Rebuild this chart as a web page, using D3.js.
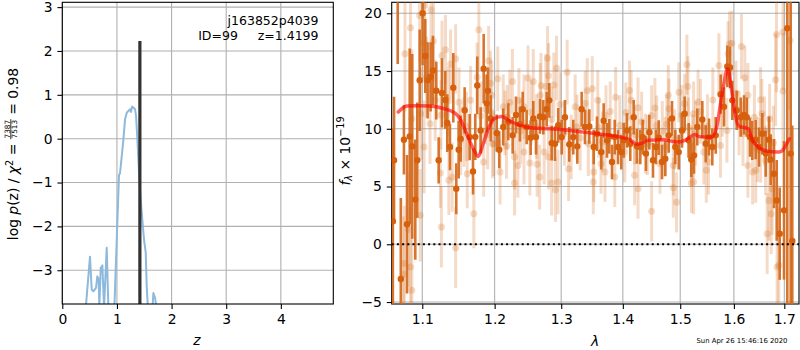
<!DOCTYPE html>
<html><head><meta charset="utf-8">
<script src="https://cdn.jsdelivr.net/npm/d3@7"></script>
<style>body{margin:0;background:#fff} svg{display:block} text{font-family:"DejaVu Sans",sans-serif}</style>
</head><body>
<svg id="c" width="800" height="350"></svg>
<script>
// ---------- left panel: log p(z) ----------
const pzZ =    [0.43, 0.507, 0.538, 0.568, 0.617, 0.641, 0.666, 0.678, 0.703, 0.733, 0.764, 0.813, 0.843, 0.90, 0.953, 1.038, 1.055, 1.088, 1.118, 1.148, 1.179, 1.209, 1.240, 1.258, 1.277, 1.300, 1.332, 1.350, 1.374, 1.410, 1.454, 1.496, 1.527, 1.545, 1.57, 1.62, 1.667, 1.70, 1.73];
const pzLogp = [-3.85, -2.69, -3.44, -3.48, -3.40, -3.14, -3.21, -3.85, -2.95, -2.89, -3.85, -2.49, -3.85, -4.5, -3.85, -0.82, -0.80, -0.40, -0.02, 0.44, 0.59, 0.63, 0.67, 0.61, 0.73, 0.71, 0.67, 0.52, -0.02, -0.93, -1.69, -2.30, -2.60, -3.36, -3.95, -4.5, -3.52, -3.64, -3.95];
const zBest = 1.4199, zBestTop = 2.23;
const zTicks = [0, 1, 2, 3, 4];
const logpTicks = [-3, -2, -1, 0, 1, 2, 3];
const objName = "j163852p4039";
const objInfo = "ID=99     z=1.4199";

// ---------- right panel: spectrum ----------
const lamTicks = [1.1, 1.2, 1.3, 1.4, 1.5, 1.6, 1.7];
const fluxTicks = [-5, 0, 5, 10, 15, 20];

const darkLam = [1.0618,1.0633,1.068,1.072,1.076,1.080,1.0835,1.0868,1.0908,1.0934,
 1.0966,1.1004,1.104,1.1071,1.1111,1.1142,1.1187,1.1219,1.1264,1.1309,
 1.1336,1.1372,1.1418,1.1459,1.1492,1.152,1.1575,1.1645,1.1692,1.1724,
 1.1752,1.18,1.1843,1.1886,1.1904,1.1943,
 1.2030,1.2067,1.2125,1.2199,1.2263,1.2312,1.2371,1.2412,1.2471,1.2531,
 1.2571,1.2612,1.2672,1.2723,1.2775,1.2815,1.2852,1.2903,1.2954,1.3008,
 1.3059,1.3127,1.3190,1.3254,1.3324,1.3377,1.3447,
 1.3518,1.3572,1.3642,1.3681,1.3736,1.3774,1.3819,1.3864,1.3919,1.3974,
 1.4014,1.407,1.4126,1.4184,1.424,1.4297,1.4338,1.4395,1.4453,1.4517,
 1.457,1.4617,1.4675,1.4733,1.4794,1.4853,1.4912,1.4973,1.5032,1.5081,
 1.5154,1.5201,
 1.5251,1.5311,1.5404,1.5467,1.5528,1.559,1.5654,1.5748,1.5811,1.5874,
 1.5925,1.597,1.6054,1.6132,1.6196,1.6249,1.6313,1.6358,1.6425,1.6491,
 1.6556,1.6624,1.669,1.6724,1.6791,1.6846,1.6906,1.6994,1.7061,1.7131,1.7164];
const darkFlux = [2.0,7.27,27.0,-3.0,9.05,1.73,9.34,8.48,3.87,7.27,
 14.2,20.0,16.3,14.2,14.5,15.05,13.3,7.27,13.1,12.5,
 10.5,8.42,13.55,4.81,8.19,9.14,11.6,9.28,6.31,9.3,
 13.75,9.86,15.2,12.2,13.3,10.9,
 9.63,8.19,10.15,10.6,9.43,11.2,10.4,11.7,10.15,9.23,
 10.9,9.28,11.07,11.0,11.7,12.46,8.76,8.71,10.3,9.28,
 11.0,8.65,9.28,8.48,11.7,10.15,10.2,
 8.42,9.57,7.98,10.7,9.0,9.34,7.12,9.28,8.42,7.98,
 9.0,9.86,8.71,11.0,8.48,8.42,9.28,7.85,9.71,7.27,
 8.42,9.23,7.12,7.41,9.43,10.9,8.42,7.98,9.86,11.3,
 9.0,7.33,
 7.7,10.15,10.8,8.71,9.28,8.42,9.43,13.0,11.9,15.4,
 15.3,12.46,11.6,11.0,11.2,11.0,9.28,9.0,9.06,8.42,
 9.57,7.85,9.06,7.33,6.11,3.8,0.92,2.94,18.7,7.85,0.29];
const darkErr = [8,5.5,11.4,7,3,6,7.6,8,5.2,5,
 4.4,4.5,3.2,3.3,3,3,2.5,2,3,2.5,
 2.5,2,3,2.2,2.5,2,2,2,2,2,
 2.5,2,3,2.5,2,2,
 1.6,1.6,1.6,1.6,1.6,1.6,1.5,1.5,1.5,1.5,
 1.5,1.5,1.5,1.5,1.5,1.5,1.5,1.5,1.5,1.5,
 1.5,1.5,1.5,1.5,1.5,1.5,1.5,
 1.5,1.5,1.5,1.5,1.5,1.5,1.5,1.5,1.5,1.5,
 1.5,1.5,1.5,1.5,1.5,1.5,1.5,1.5,1.5,1.5,
 1.5,1.5,1.5,1.5,1.5,1.5,1.5,1.5,1.5,1.5,
 1.5,1.5,
 1.6,1.6,1.6,1.6,1.6,1.6,1.6,1.7,1.7,1.8,
 1.8,1.7,1.7,1.7,1.7,1.7,1.7,1.7,1.7,1.7,
 1.8,2,2,2.2,3,3.5,4,6,25,14,10];

const lightLam = [1.0845,1.0965,1.1033,1.1117,1.0773,1.0863,1.1024,1.1149,1.1264,1.1311,
 1.1381,1.145,1.1056,1.1172,1.1103,1.0979,1.1242,1.1357,1.1403,1.1519,
 1.1611,1.1658,1.1774,1.175,1.1704,1.1913,1.1958,1.1867,1.1968,1.1843,
 1.1256,1.145,1.0819,1.0765,1.0752,1.0845,1.0863,1.0973,1.1024,1.1496,1.1565,
 1.194,1.2045,1.2259,1.2491,1.2571,1.2788,1.2803,1.2927,1.3094,1.2688,
 1.2762,1.2886,1.3414,1.3495,1.2125,1.2356,1.2431,1.2677,1.1986,1.2172,
 1.2291,1.234,1.2431,1.2519,1.2629,1.2668,1.2737,1.2851,1.2911,1.295,
 1.2291,1.2079,1.3116,1.3512,1.3431,1.325,1.2182,1.2803,1.3157,
 1.3584,1.3719,1.388,1.4112,1.414,1.4258,1.4493,1.4787,1.4975,1.5121,
 1.5139,1.5079,1.4798,1.4581,1.3519,1.3703,1.3865,1.3638,1.4032,1.4199,
 1.4258,1.4493,1.464,1.4876,1.4876,1.4934,1.5203,1.5203,1.4385,1.4728,
 1.5714,1.5917,1.5961,1.6147,1.5887,1.6211,1.6272,1.6522,1.6822,1.6842,
 1.6974,1.7115,1.6974,1.5325,1.5243,1.5225,1.5431,1.5519,1.5478,1.5243,
 1.5744,1.5867,1.6272,1.6364,1.6426,1.6522,1.6621,1.6688,1.6734,1.6653,
 1.6854,1.6888,1.6754,1.6176,1.6702,1.6549,
 1.125,1.135,1.16,1.18,1.19,1.215,1.222,1.238,1.254,1.262,
 1.285,1.298,1.305,1.322,1.33,1.338,1.36,1.366,1.379,1.395,
 1.405,1.42,1.432,1.442,1.455,1.468,1.476,1.49,1.503,1.515,
 1.528,1.537,1.55,1.56,1.578,1.604,1.61,1.64,1.646,1.66,1.678];
const lightFlux = [18.75,19.8,20.7,20.3,16.5,10.87,17.5,17.6,16.35,16.85,
 15.6,16.06,14.47,12.46,10.44,11.3,6.17,5.54,5.82,9.0,
 6.11,12.46,18.57,14.47,2.65,15.9,12.9,11.7,8.71,7.12,
 1.5,-0.29,1.27,-1.67,-2.6,-1.96,-3.98,2.51,8.42,12.3,9.71,
 13.95,14.33,14.1,14.4,14.1,16.1,14.6,15.25,14.9,13.75,
 13.67,13.8,13.3,13.47,11.9,12.46,11.9,12.9,8.71,8.48,
 7.55,6.83,7.98,7.03,6.92,5.82,7.98,5.3,4.73,5.39,
 5.3,6.25,6.55,5.39,8.71,10.15,11.0,7.55,8.42,
 12.46,11.16,12.74,13.32,12.46,11.83,11.16,12.9,13.17,15.57,
 13.67,12.17,11.74,10.29,6.25,6.25,5.82,6.98,7.98,5.97,
 4.81,2.85,6.98,6.83,4.9,3.63,5.3,7.55,8.71,8.42,
 15.48,17.36,17.41,17.13,16.5,14.42,12.9,12.52,14.25,18.17,
 18.37,17.65,13.26,12.31,11.3,8.42,7.98,7.12,6.4,5.39,
 8.56,9.86,6.83,6.25,6.4,8.13,7.27,3.8,2.65,0.92,
 -1.96,-1.82,4.81,9.57,10.87,11.3,
 11.2,12.4,10.2,11.1,9.5,10.5,12.3,9.8,11.4,10.2,
 10.8,12.1,9.6,11.9,9.2,12.2,10.1,8.9,11.5,10.3,
 11.4,9.5,10.6,8.6,11.8,9.8,10.4,9.1,11.2,10.1,
 9.6,11.5,10.2,12.5,12.1,13.1,10.5,11.0,8.2,9.8,8.8];
const lightErr = [4,4,4,3.5,5,6,3.5,3.5,3,3,
 3,3,3.5,3.5,3.5,4,3,3,3,3,
 3,3,3.5,3,3,3,3,3,3,3,
 3.5,3.5,5,5,5,5,5,4,4,3,3,
 2.8,2.8,2.8,2.8,2.8,2.8,2.8,2.8,2.8,2.8,
 2.8,2.8,2.8,2.8,2.8,2.8,2.8,2.8,2.8,2.8,
 2.8,2.8,2.8,2.8,2.8,2.8,2.8,2.8,2.8,2.8,
 2.8,2.8,2.8,2.8,2.8,2.8,2.8,2.8,2.8,
 2.6,2.6,2.6,2.6,2.6,2.6,2.6,2.6,2.6,2.6,
 2.6,2.6,2.6,2.6,2.6,2.6,2.6,2.6,2.6,2.6,
 2.6,2.6,2.6,2.6,2.6,2.6,2.6,2.6,2.6,2.6,
 2.8,2.8,2.8,2.8,2.8,2.8,2.8,2.8,4,5,
 5,6,5,2.8,2.8,2.8,2.8,2.8,2.8,2.8,
 2.8,2.8,2.8,2.8,2.8,2.8,3,3.5,3.5,3.5,
 5,5,4,2.8,3,3,
 3,3,3,3,3,2.8,2.8,2.8,2.8,2.8,
 2.8,2.8,2.8,2.8,2.8,2.8,2.6,2.6,2.6,2.6,
 2.6,2.6,2.6,2.6,2.6,2.6,2.6,2.6,2.6,2.6,
 2.8,2.8,2.8,2.8,2.8,2.8,2.8,2.8,2.8,3,3.2];

const modelLam = [1.0687,1.0796,1.0926,1.1102,1.1281,1.1441,1.151,1.1603,1.1696,1.1766,
 1.1837,1.1909,1.1995,1.2102,1.2223,1.2371,1.2571,1.2826,1.3033,1.335,
 1.3675,1.3952,1.4121,1.4235,1.4321,1.4435,1.4698,1.4937,1.5087,1.5178,
 1.5269,1.533,1.5422,1.5579,1.5673,1.5735,1.5798,1.5881,1.5958,1.6022,
 1.6105,1.6215,1.628,1.6347,1.6477,1.6644,1.6846,1.6947,1.7049,1.7103];
const modelFlux = [11.45,11.97,12.0,11.97,11.76,11.35,10.87,9.57,8.28,7.61,
 8.71,10.0,10.87,11.07,10.67,10.29,10.06,10.0,9.92,9.71,
 9.51,9.28,9.06,8.65,8.76,9.0,9.06,8.85,9.0,9.28,
 9.51,9.34,9.28,9.28,10.15,11.88,13.6,15.2,13.3,11.3,
 10.2,10.09,10.0,9.14,8.42,8.07,7.98,8.07,8.71,9.14];
const stamp = "Sun Apr 26 15:46:16 2020";

// ---------- drawing ----------
const svg = d3.select("#c");
const FS = 13.9, TICK = 4.9, PAD = 4.9, GRID = "#b0b0b0";

function styleAxis(g){
  g.select(".domain").remove();
  g.attr("font-size", FS).attr("font-family", "DejaVu Sans");
  g.selectAll(".tick line").attr("stroke", "#000").attr("stroke-width", 1.1);
  g.selectAll(".tick text").attr("fill", "#000");
}

// Left panel
const L = {x0: 62.3, x1: 333.3, y0: 2.3, y1: 304};
const xL = d3.scaleLinear().domain([0, 4.96]).range([L.x0, L.x1]);
const yL = d3.scaleLinear().domain([-3.77, 3.11]).range([L.y1, L.y0]);
const defs = svg.append("defs");
defs.append("clipPath").attr("id", "clipL").append("rect").attr("x", L.x0).attr("y", L.y0).attr("width", L.x1 - L.x0).attr("height", L.y1 - L.y0);

const gL = svg.append("g");
gL.selectAll("line.vg").data(zTicks).join("line").attr("x1", d => xL(d)).attr("x2", d => xL(d)).attr("y1", L.y0).attr("y2", L.y1).attr("stroke", GRID).attr("stroke-width", 1.1);
gL.selectAll("line.hg").data(logpTicks).join("line").attr("y1", d => yL(d)).attr("y2", d => yL(d)).attr("x1", L.x0).attr("x2", L.x1).attr("stroke", GRID).attr("stroke-width", 1.1);

const pLine = d3.line().x((d, i) => xL(pzZ[i])).y(d => yL(d));
gL.append("path").attr("clip-path", "url(#clipL)").attr("d", pLine(pzLogp)).attr("fill", "none").attr("stroke", "#8cb9dc").attr("stroke-width", 2).attr("stroke-linejoin", "round");
gL.append("line").attr("clip-path", "url(#clipL)").attr("x1", xL(zBest)).attr("x2", xL(zBest)).attr("y1", yL(-3.77)).attr("y2", yL(zBestTop)).attr("stroke", "#333").attr("stroke-width", 3.2);

gL.append("rect").attr("x", L.x0).attr("y", L.y0).attr("width", L.x1 - L.x0).attr("height", L.y1 - L.y0).attr("fill", "none").attr("stroke", "#000").attr("stroke-width", 1.1);
gL.append("g").attr("transform", `translate(0,${L.y1})`).call(d3.axisBottom(xL).tickValues(zTicks).tickSize(TICK).tickPadding(PAD).tickFormat(d3.format("d"))).call(styleAxis);
gL.append("g").attr("transform", `translate(${L.x0},0)`).call(d3.axisLeft(yL).tickValues(logpTicks).tickSize(TICK).tickPadding(PAD).tickFormat(d3.format("d"))).call(styleAxis);

gL.append("text").attr("x", 318.5).attr("y", 25).attr("text-anchor", "end").attr("font-size", 12.5).text(objName);
gL.append("text").attr("x", 318.5).attr("y", 39.5).attr("text-anchor", "end").attr("font-size", 12.5).style("white-space", "pre").text(objInfo);

gL.append("text").attr("x", 197).attr("y", 345).attr("text-anchor", "middle").attr("font-size", FS).attr("font-style", "italic").text("z");

// left y label with fraction
(function(){
  const g = svg.append("g").attr("transform", "translate(18.3,154) rotate(-90)");
  const inner = g.append("g");
  const t1 = inner.append("text").attr("font-size", FS).style("white-space", "pre");
  t1.append("tspan").text("log ");
  t1.append("tspan").attr("font-style", "italic").text("p");
  t1.append("tspan").text("(z) / ");
  t1.append("tspan").attr("font-style", "italic").text("χ");
  t1.append("tspan").attr("font-size", 9.7).attr("dy", -5.5).text("2");
  t1.append("tspan").attr("dy", 5.5).text(" = ");
  const w1 = t1.node().getComputedTextLength();
  const fs2 = 7.3;
  const num = inner.append("text").attr("font-size", fs2).attr("y", -8.6).text("7387");
  const den = inner.append("text").attr("font-size", fs2).attr("y", -1.4).text("7513");
  const fw = Math.max(num.node().getComputedTextLength(), den.node().getComputedTextLength()) + 1.5;
  num.attr("x", w1 + fw / 2).attr("text-anchor", "middle");
  den.attr("x", w1 + fw / 2).attr("text-anchor", "middle");
  inner.append("line").attr("x1", w1).attr("x2", w1 + fw).attr("y1", -7.5).attr("y2", -7.5).attr("stroke", "#000").attr("stroke-width", 0.8);
  const t2 = inner.append("text").attr("font-size", FS).attr("x", w1 + fw).style("white-space", "pre").text(" = 0.98");
  const W = w1 + fw + t2.node().getComputedTextLength();
  inner.attr("transform", `translate(${-W / 2},0)`);
})();

// Right panel
const R = {x0: 391.7, x1: 799, y0: 2.3, y1: 304};
const xR = d3.scaleLog().domain([1.0603, 1.7303]).range([R.x0, R.x1]);
const yR = d3.scaleLinear().domain([-5.17, 20.95]).range([R.y1, R.y0]);
defs.append("clipPath").attr("id", "clipR").append("rect").attr("x", R.x0).attr("y", R.y0).attr("width", R.x1 - R.x0).attr("height", R.y1 - R.y0);

const gR = svg.append("g");
gR.selectAll("line.vg").data(lamTicks).join("line").attr("x1", d => xR(d)).attr("x2", d => xR(d)).attr("y1", R.y0).attr("y2", R.y1).attr("stroke", GRID).attr("stroke-width", 1.1);
gR.selectAll("line.hg").data(fluxTicks).join("line").attr("y1", d => yR(d)).attr("y2", d => yR(d)).attr("x1", R.x0).attr("x2", R.x1).attr("stroke", GRID).attr("stroke-width", 1.1);

const data = svg.append("g").attr("clip-path", "url(#clipR)");
const LC = "#d9711f";
const lightIdx = d3.range(lightLam.length);
data.selectAll("line.le").data(lightIdx).join("line")
  .attr("x1", i => xR(lightLam[i])).attr("x2", i => xR(lightLam[i]))
  .attr("y1", i => yR(lightFlux[i] - lightErr[i])).attr("y2", i => yR(lightFlux[i] + lightErr[i]))
  .attr("stroke", LC).attr("stroke-opacity", 0.25).attr("stroke-width", 3);
data.selectAll("circle.lp").data(lightIdx).join("circle")
  .attr("cx", i => xR(lightLam[i])).attr("cy", i => yR(lightFlux[i])).attr("r", 3.5)
  .attr("fill", LC).attr("fill-opacity", 0.25);

const darkIdx = d3.range(darkLam.length);
data.selectAll("line.de").data(darkIdx).join("line")
  .attr("x1", i => xR(darkLam[i])).attr("x2", i => xR(darkLam[i]))
  .attr("y1", i => yR(darkFlux[i] - darkErr[i])).attr("y2", i => yR(darkFlux[i] + darkErr[i]))
  .attr("stroke", "#d4691c").attr("stroke-opacity", 0.92).attr("stroke-width", 2.6);
data.selectAll("circle.dp").data(darkIdx).join("circle")
  .attr("cx", i => xR(darkLam[i])).attr("cy", i => yR(darkFlux[i])).attr("r", 3.2)
  .attr("fill", "#d6600c");

data.append("line").attr("x1", R.x0).attr("x2", R.x1).attr("y1", yR(0)).attr("y2", yR(0))
  .attr("stroke", "#000").attr("stroke-width", 2).attr("stroke-dasharray", "2,3.2");

const mLine = d3.line().x((d, i) => xR(modelLam[i])).y(d => yR(d)).curve(d3.curveMonotoneX);
data.append("path").attr("d", mLine(modelFlux)).attr("fill", "none").attr("stroke", "#ff0000").attr("stroke-opacity", 0.62).attr("stroke-width", 3.5).attr("stroke-linecap", "round");

gR.append("rect").attr("x", R.x0).attr("y", R.y0).attr("width", R.x1 - R.x0).attr("height", R.y1 - R.y0).attr("fill", "none").attr("stroke", "#000").attr("stroke-width", 1.1);
svg.append("g").attr("transform", `translate(0,${R.y1})`).call(d3.axisBottom(xR).tickValues(lamTicks).tickSize(TICK).tickPadding(PAD).tickFormat(d3.format(".1f"))).call(styleAxis);
svg.append("g").attr("transform", `translate(${R.x0},0)`).call(d3.axisLeft(yR).tickValues(fluxTicks).tickSize(TICK).tickPadding(PAD).tickFormat(d3.format("d"))).call(styleAxis);

svg.append("text").attr("x", 595).attr("y", 345.5).attr("text-anchor", "middle").attr("font-size", FS).attr("font-style", "italic").text("λ");

(function(){
  const g = svg.append("g").attr("transform", "translate(349.5,151) rotate(-90)");
  const t = g.append("text").attr("font-size", FS).attr("text-anchor", "middle").style("white-space", "pre");
  t.append("tspan").attr("font-style", "italic").text("f");
  t.append("tspan").attr("font-style", "italic").attr("font-size", 9.7).attr("dy", 2.8).text("λ");
  t.append("tspan").attr("dy", -2.8).text(" × 10");
  t.append("tspan").attr("font-size", 9.7).attr("dy", -5.5).text("−19");
})();

svg.append("text").attr("x", 787.5).attr("y", 342.5).attr("text-anchor", "end").attr("font-size", 6.9).text(stamp);
</script>
</body></html>
